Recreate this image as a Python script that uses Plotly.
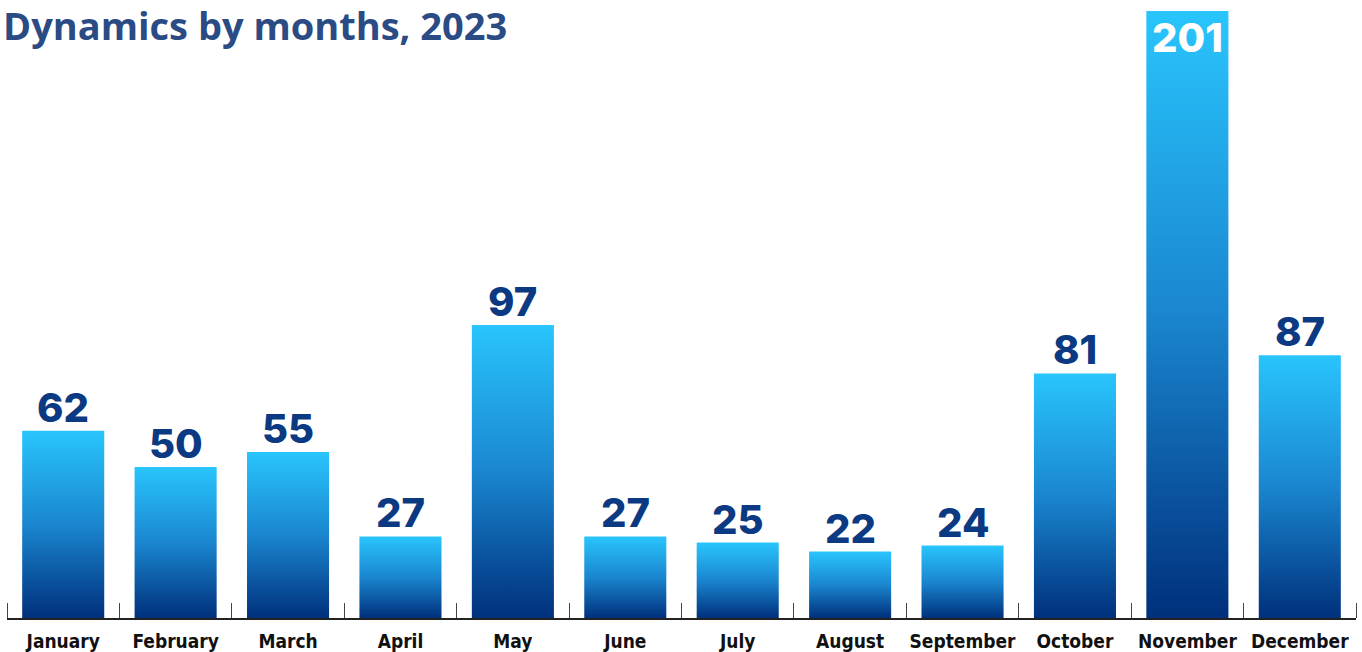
import plotly.graph_objects as go

months = ["January", "February", "March", "April", "May", "June", "July",
          "August", "September", "October", "November", "December"]
values = [62, 50, 55, 27, 97, 27, 25, 22, 24, 81, 201, 87]
title_text = "Dynamics by months, 2023"

BAR_W = 0.73
LIGHT = "#29c5fd"
MID = "#1a86cf"
DARK = "#00307c"
LABEL_COLOR = "#0b3a82"
TITLE_COLOR = "#2b4b84"

fig = go.Figure()
xs = list(range(len(months)))
for i, v in zip(xs, values):
    h = BAR_W / 2
    fig.add_trace(go.Scatter(
        x=[i - h, i + h, i + h, i - h, i - h],
        y=[0, 0, v, v, 0],
        mode="lines",
        line=dict(width=0),
        fill="toself",
        fillgradient=dict(type="vertical",
                          colorscale=[[0, DARK], [0.5, MID], [1, LIGHT]]),
        hoverinfo="skip",
        showlegend=False,
    ))

ymax = max(values)
for i, v in zip(xs, values):
    inside = v == ymax
    fig.add_annotation(
        x=i, y=v, xref="x", yref="y",
        text=str(v), showarrow=False,
        yanchor="top" if inside else "bottom",
        yshift=0 if inside else -3,
        font=dict(family="Inter", size=40, color="white" if inside else LABEL_COLOR,
                  weight=800),
    )

fig.add_annotation(
    x=-0.0045, y=1.0, xref="paper", yref="paper", yanchor="middle", xanchor="left",
    yshift=-14, text=title_text, showarrow=False,
    font=dict(family="Open Sans", size=38, color=TITLE_COLOR, weight="bold"),
)

fig.update_layout(
    width=1362, height=652,
    margin=dict(l=7, r=6, t=11, b=34, autoexpand=False),
    paper_bgcolor="white", plot_bgcolor="white",
    xaxis=dict(
        range=[-0.5, len(months) - 0.5],
        tickmode="array", tickvals=xs, ticktext=months,
        ticks="", showgrid=False, zeroline=False, automargin=False,
        showline=True, linecolor="#222222", linewidth=1.5,
        ticklabelstandoff=5,
        tickfont=dict(family="DejaVu Sans Condensed, DejaVu Sans", size=19,
                      color="#111111", weight="bold"),
        minor=dict(tickmode="array", tickvals=[i - 0.5 for i in range(len(months) + 1)],
                   ticks="inside", ticklen=15, tickcolor="#444444", tickwidth=1.2,
                   showgrid=False),
        fixedrange=True,
    ),
    yaxis=dict(range=[0, ymax], visible=False, fixedrange=True, automargin=False),
)

fig.write_html("out.html", post_script="document.body.style.margin='0';",
               config={"displayModeBar": False})
